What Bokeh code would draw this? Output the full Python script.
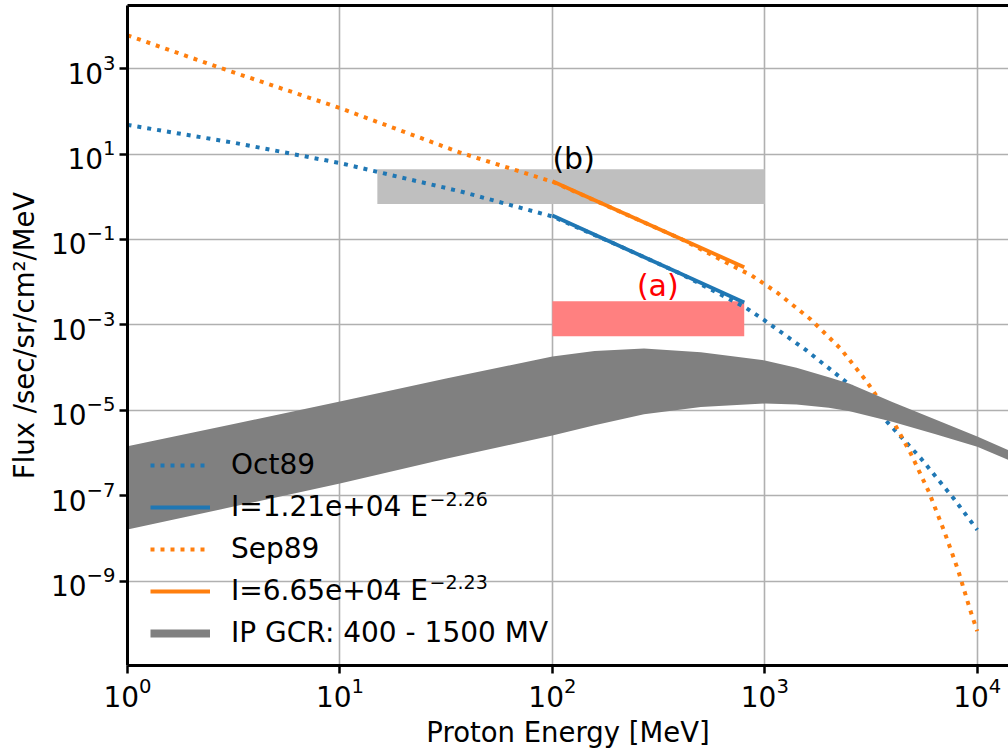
from bokeh.plotting import figure
from bokeh.models import (Range1d, FixedTicker, LogAxis, Legend, LegendItem, Label,
                          ColumnDataSource)
from bokeh.core.properties import value
from bokeh.embed import file_html
from bokeh.resources import INLINE

# ---------------- data ----------------
oct89_energy = [1, 3.18, 10, 37, 100, 200, 400, 812, 980, 1560, 2443, 3673, 5420, 7780, 10000]
oct89_flux = [48, 18.3, 6.15, 1.33, 0.345, 0.076, 0.0159, 0.00255, 0.00136, 2.6e-4,
              4.4e-5, 6.15e-6, 7.6e-7, 8.4e-8, 1.6e-8]

sep89_energy = [1, 2.72, 10, 37, 100, 200, 400, 774, 863, 1143, 1641, 2270, 3020, 3908,
                4864, 5916, 6982, 8128, 9290, 10000]
sep89_flux = [6000, 1045, 119, 10.7, 2.25, 0.49, 0.105, 0.019, 0.0146, 5.7e-3, 1.36e-3,
              2.8e-4, 4.7e-5, 7.2e-6, 9.8e-7, 1.24e-7, 1.51e-8, 1.81e-9, 2.02e-10, 6.8e-11]

fit_energy = [100, 800]
oct89_fit_flux = [0.365, 0.00333]   # I=1.21e+04 E^-2.26
sep89_fit_flux = [2.31, 0.0224]     # I=6.65e+04 E^-2.23

gcr_energy = [1, 3.16, 10, 31.6, 100, 158, 270, 500, 1000, 1410, 2000, 2510, 3980,
              6310, 10000, 14100]
gcr_400mv = [1.45e-6, 4.8e-6, 1.62e-5, 5.6e-5, 1.82e-4, 2.45e-4, 2.8e-4, 2.3e-4, 1.48e-4,
             1.0e-4, 6.0e-5, 4.2e-5, 1.58e-5, 6.2e-6, 2.45e-6, 1.15e-6]
gcr_1500mv = [1.62e-8, 5.6e-8, 1.95e-7, 7.4e-7, 2.57e-6, 4.5e-6, 8.1e-6, 1.2e-5, 1.45e-5,
              1.38e-5, 1.15e-5, 9.5e-6, 5.4e-6, 2.8e-6, 1.41e-6, 6.8e-7]

box_left = [15, 100]
box_right = [1000, 800]
box_bottom = [0.675, 5.4e-4]
box_top = [4.4, 3.6e-3]
box_color = ["#bfbfbf", "#ff8080"]

note_text = ["(b)", "(a)"]
note_x = [100, 250]
note_y = [7.8, 8.5e-3]
note_color = ["black", "red"]

x_ticks = [1, 10, 100, 1000, 10000]
y_ticks = [1e-9, 1e-7, 1e-5, 1e-3, 1e-1, 1e1, 1e3]

legend_labels = ["Oct89", "I=1.21e+04 E", "Sep89", "I=6.65e+04 E", "IP GCR: 400 - 1500 MV"]
fit_exponents = ["\u22122.26", "\u22122.23"]

FONT = "DejaVu Sans"
BLUE = "#1f77b4"
ORANGE = "#ff7f0e"

# ---------------- figure ----------------
p = figure(width=1008, height=750, x_axis_type="log", y_axis_type="log",
           x_range=Range1d(1, 14030), y_range=Range1d(1.07e-11, 2.99e4),
           output_backend="svg", toolbar_location=None,
           min_border_left=127, min_border_right=0, min_border_top=5, min_border_bottom=80)
p.outline_line_color = None
p.background_fill_color = "white"
p.border_fill_color = "white"

p.xaxis.ticker = FixedTicker(ticks=x_ticks, minor_ticks=[])
p.yaxis.ticker = FixedTicker(ticks=y_ticks, minor_ticks=[])
p.grid.grid_line_color = "#b0b0b0"
p.grid.grid_line_width = 1.6

for ax in p.axis:
    ax.axis_line_width = 3
    ax.axis_line_color = "black"
    ax.major_tick_line_width = 2.5
    ax.major_tick_line_color = "black"
    ax.major_tick_out = 8
    ax.major_tick_in = 0
    ax.minor_tick_line_color = None
    ax.major_label_text_font = FONT
    ax.major_label_text_font_size = "28px"
    ax.major_label_text_color = "black"
    ax.axis_label_text_font = FONT
    ax.axis_label_text_font_size = "27.5px"
    ax.axis_label_text_font_style = "normal"
    ax.axis_label_text_color = "black"

p.xaxis.axis_label = "Proton Energy [MeV]"
p.yaxis.axis_label = "Flux /sec/sr/cm\u00b2/MeV"
p.xaxis.major_label_standoff = 3
p.xaxis.axis_label_standoff = 6
p.yaxis.major_label_standoff = 4
p.yaxis.axis_label_standoff = 8

top_axis = LogAxis(ticker=FixedTicker(ticks=[], minor_ticks=[]), axis_line_width=3,
                   axis_line_color="black", major_tick_line_color=None,
                   minor_tick_line_color=None, major_label_text_font_size="0px")
p.add_layout(top_axis, "above")

# boxes (a) and (b)
p.quad(left=box_left, right=box_right, bottom=box_bottom, top=box_top,
       fill_color=box_color, line_color=None)

# curves
r_oct = p.line(oct89_energy, oct89_flux, line_color=BLUE, line_width=4, line_dash="4 6")
r_octfit = p.line(fit_energy, oct89_fit_flux, line_color=BLUE, line_width=3.8)
r_sep = p.line(sep89_energy, sep89_flux, line_color=ORANGE, line_width=4, line_dash="4 6")
r_sepfit = p.line(fit_energy, sep89_fit_flux, line_color=ORANGE, line_width=3.8)

# GCR band
p.varea(x=gcr_energy, y1=gcr_1500mv, y2=gcr_400mv, fill_color="#808080")
legend_proxy = ColumnDataSource(data=dict(x=[float("nan")], y=[float("nan")]))
r_gcr_leg = p.line(x="x", y="y", source=legend_proxy, line_color="#808080", line_width=8)

# notes
p.text(x=note_x, y=note_y, text=note_text, text_color=note_color,
       text_font=value(FONT), text_font_size="30px",
       text_baseline="alphabetic", text_align="left")

# legend
renderers = [r_oct, r_octfit, r_sep, r_sepfit, r_gcr_leg]
legend = Legend(items=[LegendItem(label=l, renderers=[r]) for l, r in zip(legend_labels, renderers)],
                location=(23, 16), orientation="vertical",
                background_fill_alpha=0, border_line_color=None,
                label_text_font=FONT, label_text_font_size="28px", label_text_color="black",
                glyph_width=60, glyph_height=32, label_height=32, label_standoff=21,
                spacing=9, padding=10, margin=0)
p.add_layout(legend)

for txt, ys in zip(fit_exponents, [167, 84]):
    p.add_layout(Label(x=302, y=ys, x_units="screen", y_units="screen", text=txt,
                       text_font=FONT, text_font_size="19px", text_color="black",
                       text_baseline="alphabetic", text_align="left"))

open("out.html", "w").write(file_html(p, INLINE))
